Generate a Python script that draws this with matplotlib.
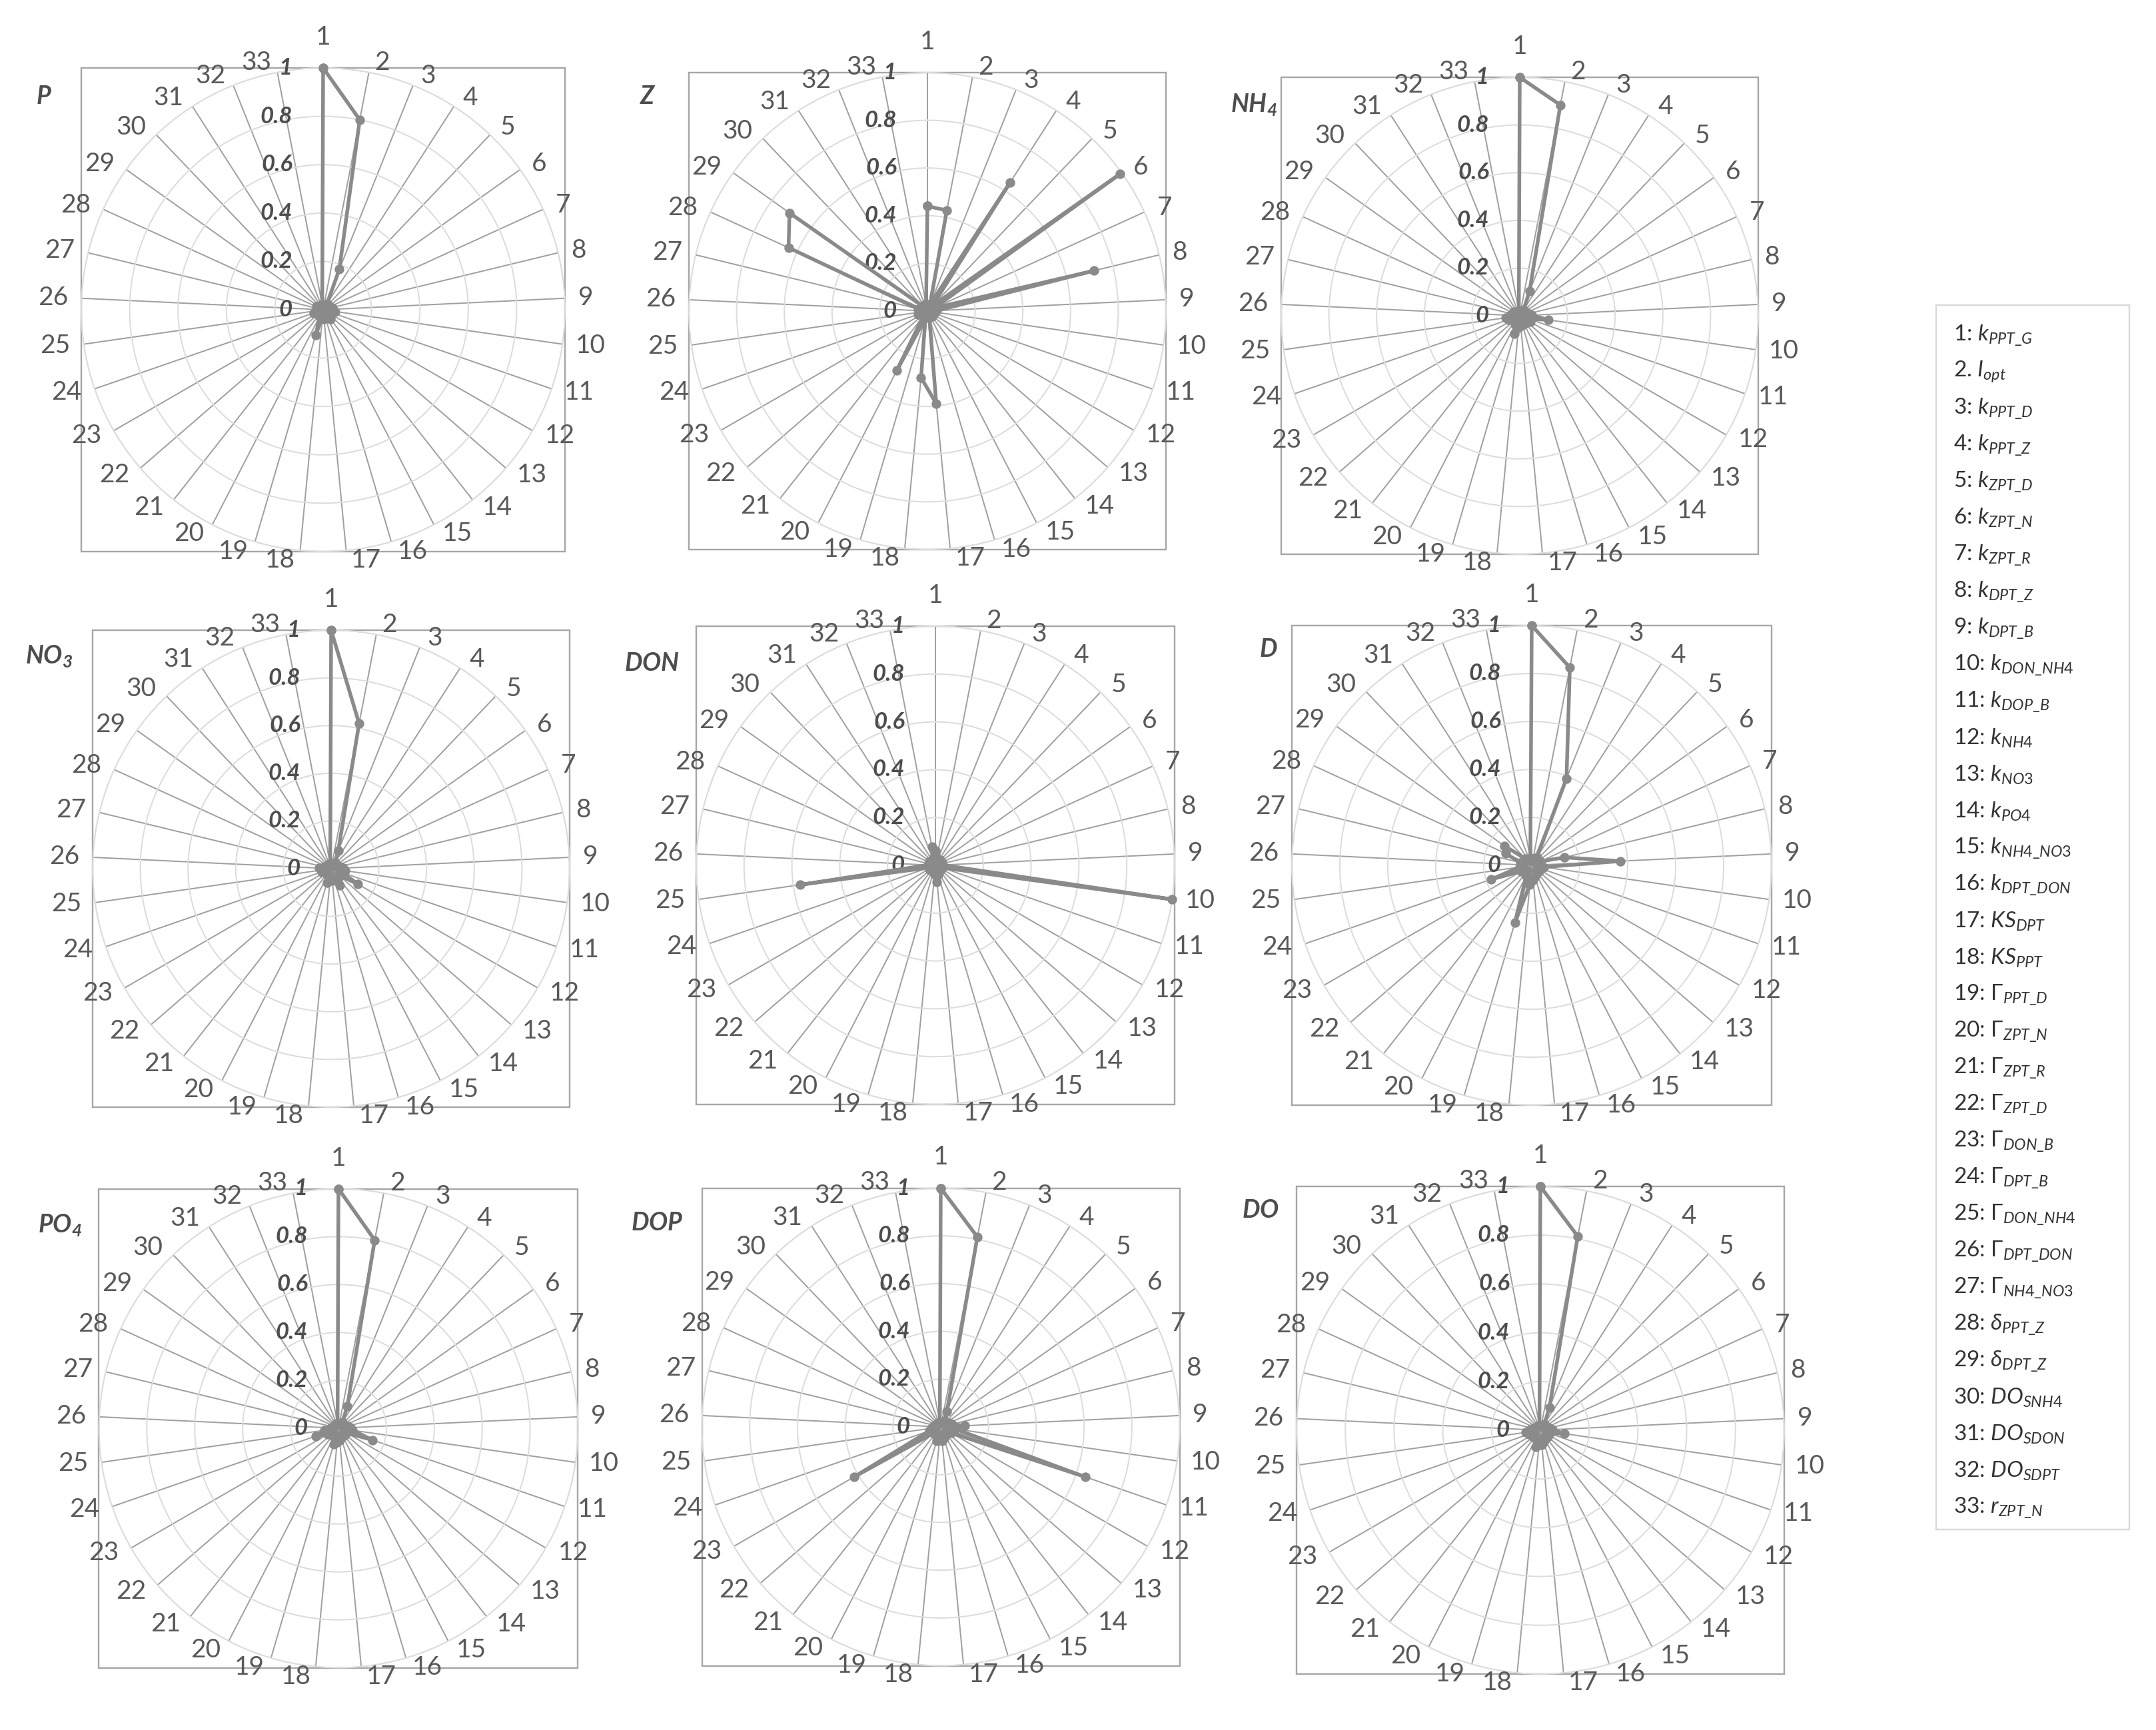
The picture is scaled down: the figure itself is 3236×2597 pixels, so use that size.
import numpy as np
import matplotlib
matplotlib.use("Agg")
import matplotlib.pyplot as plt
from matplotlib.patches import Rectangle

plt.rcParams['font.family'] = ['Lato', 'DejaVu Sans']
plt.rcParams['mathtext.fontset'] = 'custom'
plt.rcParams['mathtext.rm'] = 'Lato'
plt.rcParams['mathtext.it'] = 'Lato:italic'
plt.rcParams['mathtext.bf'] = 'Lato:bold:italic'

# ---------------- data ----------------
categories = [str(i) for i in range(1, 34)]
r_ticks = [0, 0.2, 0.4, 0.6, 0.8, 1.0]
r_tick_labels = ['0', '0.2', '0.4', '0.6', '0.8', '1']

P_vals = [1.0, 0.80, 0.18, 0.03, 0.02, 0.02, 0.03, 0.04, 0.03, 0.05, 0.04, 0.03, 0.04,
          0.05, 0.03, 0.02, 0.04, 0.03, 0.11, 0.03, 0.02, 0.02, 0.03, 0.04, 0.03, 0.02,
          0.02, 0.03, 0.02, 0.02, 0.02, 0.02, 0.02]
Z_vals = [0.44, 0.43, 0.03, 0.64, 0.03, 0.99, 0.03, 0.72, 0.04, 0.03, 0.02, 0.03, 0.02,
          0.03, 0.02, 0.03, 0.39, 0.28, 0.03, 0.28, 0.03, 0.02, 0.03, 0.04, 0.03, 0.03,
          0.04, 0.64, 0.71, 0.03, 0.02, 0.02, 0.03]
NH4_vals = [1.0, 0.90, 0.11, 0.03, 0.02, 0.03, 0.02, 0.04, 0.05, 0.12, 0.04, 0.05, 0.03,
            0.04, 0.03, 0.04, 0.03, 0.05, 0.08, 0.04, 0.03, 0.02, 0.03, 0.05, 0.06, 0.04,
            0.03, 0.02, 0.03, 0.02, 0.02, 0.02, 0.02]
NO3_vals = [1.0, 0.62, 0.08, 0.03, 0.02, 0.02, 0.03, 0.04, 0.05, 0.06, 0.05, 0.13, 0.04,
            0.05, 0.08, 0.04, 0.05, 0.04, 0.06, 0.03, 0.02, 0.03, 0.03, 0.04, 0.04, 0.05,
            0.03, 0.02, 0.02, 0.02, 0.02, 0.02, 0.02]
DON_vals = [0.06, 0.03, 0.02, 0.02, 0.03, 0.02, 0.03, 0.02, 0.03, 1.0, 0.03, 0.02, 0.03,
            0.02, 0.03, 0.04, 0.07, 0.04, 0.03, 0.02, 0.02, 0.03, 0.02, 0.03, 0.57, 0.03,
            0.02, 0.02, 0.03, 0.02, 0.02, 0.03, 0.08]
D_vals = [1.0, 0.84, 0.39, 0.04, 0.03, 0.02, 0.04, 0.14, 0.37, 0.05, 0.04, 0.03, 0.04,
          0.03, 0.04, 0.05, 0.06, 0.08, 0.25, 0.05, 0.03, 0.04, 0.05, 0.18, 0.05, 0.04,
          0.05, 0.12, 0.14, 0.04, 0.03, 0.02, 0.03]
PO4_vals = [1.0, 0.80, 0.10, 0.03, 0.02, 0.02, 0.03, 0.04, 0.05, 0.06, 0.15, 0.04, 0.03,
            0.04, 0.03, 0.04, 0.05, 0.06, 0.07, 0.04, 0.03, 0.03, 0.05, 0.10, 0.06, 0.03,
            0.02, 0.02, 0.02, 0.02, 0.02, 0.02, 0.02]
DOP_vals = [1.0, 0.81, 0.07, 0.03, 0.02, 0.03, 0.04, 0.05, 0.10, 0.06, 0.64, 0.05, 0.04,
            0.03, 0.04, 0.05, 0.06, 0.05, 0.06, 0.04, 0.03, 0.04, 0.42, 0.05, 0.04, 0.03,
            0.02, 0.02, 0.02, 0.02, 0.02, 0.02, 0.02]
DO_vals = [1.0, 0.81, 0.10, 0.03, 0.02, 0.02, 0.03, 0.04, 0.05, 0.10, 0.04, 0.03, 0.04,
           0.03, 0.04, 0.05, 0.06, 0.05, 0.07, 0.04, 0.03, 0.04, 0.03, 0.05, 0.06, 0.04,
           0.03, 0.02, 0.02, 0.02, 0.02, 0.02, 0.02]

panel_titles = [r'$\mathbf{P}$', r'$\mathbf{Z}$', r'$\mathbf{NH_4}$',
                r'$\mathbf{NO_3}$', r'$\mathbf{DON}$', r'$\mathbf{D}$',
                r'$\mathbf{PO_4}$', r'$\mathbf{DOP}$', r'$\mathbf{DO}$']
panel_values = [P_vals, Z_vals, NH4_vals, NO3_vals, DON_vals, D_vals,
                PO4_vals, DOP_vals, DO_vals]

legend_labels = [
    r'1: $k_{PPT\_G}$', r'2. $I_{opt}$', r'3: $k_{PPT\_D}$', r'4: $k_{PPT\_Z}$',
    r'5: $k_{ZPT\_D}$', r'6: $k_{ZPT\_N}$', r'7: $k_{ZPT\_R}$', r'8: $k_{DPT\_Z}$',
    r'9: $k_{DPT\_B}$', r'10: $k_{DON\_NH4}$', r'11: $k_{DOP\_B}$', r'12: $k_{NH4}$',
    r'13: $k_{NO3}$', r'14: $k_{PO4}$', r'15: $k_{NH4\_NO3}$', r'16: $k_{DPT\_DON}$',
    r'17: $KS_{DPT}$', r'18: $KS_{PPT}$', r'19: $\mathit{\Gamma}_{PPT\_D}$',
    r'20: $\mathit{\Gamma}_{ZPT\_N}$', r'21: $\mathit{\Gamma}_{ZPT\_R}$',
    r'22: $\mathit{\Gamma}_{ZPT\_D}$', r'23: $\mathit{\Gamma}_{DON\_B}$',
    r'24: $\mathit{\Gamma}_{DPT\_B}$', r'25: $\mathit{\Gamma}_{DON\_NH4}$',
    r'26: $\mathit{\Gamma}_{DPT\_DON}$', r'27: $\mathit{\Gamma}_{NH4\_NO3}$',
    r'28: $\delta_{PPT\_Z}$', r'29: $\delta_{DPT\_Z}$', r'30: $DO_{SNH4}$',
    r'31: $DO_{SDON}$', r'32: $DO_{SDPT}$', r'33: $r_{ZPT\_N}$']

# ---------------- layout (pixels in the full image) ----------------
W, H, DPI = 3237, 2597, 100
# (center x, center y, box size)
boxes = [(485, 465, 726), (1392, 467, 716), (2281, 474, 716),
         (497, 1304, 716), (1404, 1299, 718), (2299, 1299, 720),
         (508, 2144, 719), (1412, 2142, 717), (2312, 2147, 732)]
title_pos = [(54, 145), (960, 145), (1847, 157),
             (38, 985), (937, 996), (1890, 975),
             (57, 1839), (947, 1836), (1864, 1817)]

TXT = '#595959'
SPOKE = '#a0a0a0'
RING = '#dcdcdc'
BOX = '#a6a6a6'
LINE = '#8a8a8a'
PX = 72.0 / DPI  # points per pixel

fig = plt.figure(figsize=(W / DPI, H / DPI), dpi=DPI)

n = len(categories)
theta = np.arange(n) * 2 * np.pi / n


def fx(x):
    return x / W


def fy(y):
    return 1 - y / H


for k in range(9):
    cx, cy, s = boxes[k]
    pos = [fx(cx - s / 2), fy(cy + s / 2), s / W, s / H]
    fig.add_artist(Rectangle((pos[0], pos[1]), pos[2], pos[3], transform=fig.transFigure,
                             fill=False, edgecolor=BOX, linewidth=2.4 * PX, zorder=0))
    ax = fig.add_axes(pos, projection='polar')
    ax.set_facecolor('none')
    ax.set_theta_zero_location('N')
    ax.set_theta_direction(-1)
    ax.set_ylim(0, 1)
    ax.set_xticks(theta)
    ax.set_xticklabels([])
    ax.set_yticks(r_ticks[1:])
    ax.set_yticklabels([])
    ax.tick_params(length=0)
    ax.xaxis.grid(True, color=SPOKE, linewidth=2.0 * PX)
    ax.yaxis.grid(True, color=RING, linewidth=2.0 * PX)
    ax.spines['polar'].set_color(RING)
    ax.spines['polar'].set_linewidth(2.0 * PX)

    vals = panel_values[k]
    tt = np.append(theta, theta[0])
    vv = np.append(vals, vals[0])
    ax.plot(tt, vv, color=LINE, linewidth=5.5 * PX, marker='o',
            markersize=13 * PX, clip_on=False, zorder=5)

    # category labels
    for i, lab in enumerate(categories):
        t = theta[i]
        sn, cs = np.sin(t), np.cos(t)
        if i == 0:
            dx, dy, ha = 0.0, 46.0, 'center'
        else:
            dx = np.sign(sn) * (6 + 14 * abs(sn))
            dy = 15 * cs
            ha = 'left' if sn > 0 else 'right'
        ax.annotate(lab, xy=(t, 1.0), xytext=(dx * PX, dy * PX), textcoords='offset points',
                    ha=ha, va='center', fontsize=28, color=TXT, annotation_clip=False)

    # radial labels
    for r, lab in zip(r_ticks, r_tick_labels):
        ax.annotate(lab, xy=(0, r), xytext=(-46 * PX, 0), textcoords='offset points',
                    ha='right', va='center', fontsize=25, color='#4d4d4d',
                    fontweight='bold', fontstyle='italic', annotation_clip=False)

    tx, ty = title_pos[k]
    fig.text(fx(tx), fy(ty), panel_titles[k], ha='left', va='center',
             fontsize=27, color='#4d4d4d')

# legend box
lx0, ly0, lx1, ly1 = 2906, 458, 3196, 2296
fig.add_artist(Rectangle((fx(lx0), fy(ly1)), (lx1 - lx0) / W, (ly1 - ly0) / H,
                         transform=fig.transFigure, fill=False, edgecolor='#d9d9d9',
                         linewidth=2.4 * PX))
for i, lab in enumerate(legend_labels):
    fig.text(fx(2932), fy(503 + 55 * i), lab, ha='left', va='center',
             fontsize=24, color='#333333')

fig.savefig('out.png', dpi=DPI, facecolor='white')
